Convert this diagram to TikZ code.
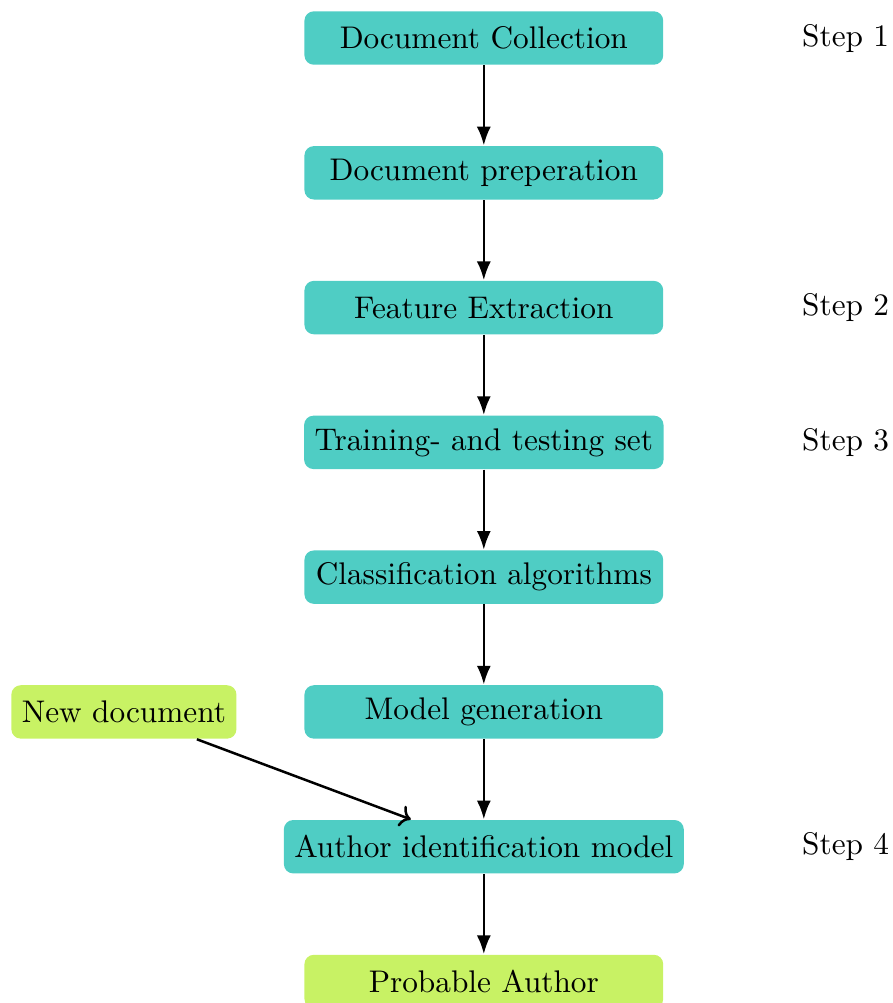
\documentclass[tikz,border=0pt]{standalone}
\usepackage{xcolor}
\usepackage{tikz}
\usetikzlibrary{positioning, arrows.meta}
\definecolor{stageteal}{RGB}{79, 205, 196}
\definecolor{ioLime}{RGB}{200, 242, 100}
\tikzset{
  stage/.style={
    fill=stageteal, rounded corners=3pt,
    minimum width=4.03cm, minimum height=0.6cm,
    align=center,
  },
  ioBox/.style={stage, fill=ioLime},
  flow/.style={draw=black, thick, -{Latex[length=6pt, width=4.5pt]}},
  steplbl/.style={font=\normalsize},
}

\begin{document}
\begin{tikzpicture}[node distance=0.9cm]

\useasboundingbox (-5.435,-10.84) rectangle (4.593,0.427);

\node[stage] (collect) at (0,0) {Document Collection};
\node[stage, below=of collect] (prep) {Document preperation};
\node[stage, below=of prep] (feature) {Feature Extraction};
\node[stage, below=of feature] (sets) {Training- and testing set};
\node[stage, below=of sets] (classif) {Classification algorithms};
\node[stage, below=of classif] (model) {Model generation};
\node[stage, below=of model] (authid) {Author identification model};
\node[ioBox, below=of authid] (probable) {Probable Author};

\node[ioBox, minimum width=0pt, left=0.75cm of model] (newdoc) {New document};

% step labels
\node[steplbl, right=1.43cm of collect] (s1) {Step 1};
\node[steplbl] (s2) at (s1 |- feature) {Step 2};
\node[steplbl] (s3) at (s1 |- sets) {Step 3};
\node[steplbl] (s4) at (s1 |- authid) {Step 4};

\draw[flow] (collect) -- (prep);
\draw[flow] (prep) -- (feature);
\draw[flow] (feature) -- (sets);
\draw[flow] (sets) -- (classif);
\draw[flow] (classif) -- (model);
\draw[flow] (model) -- (authid);
\draw[flow] (authid) -- (probable);
\draw[thick, ->] (newdoc) -- (authid);

\end{tikzpicture}
\end{document}
